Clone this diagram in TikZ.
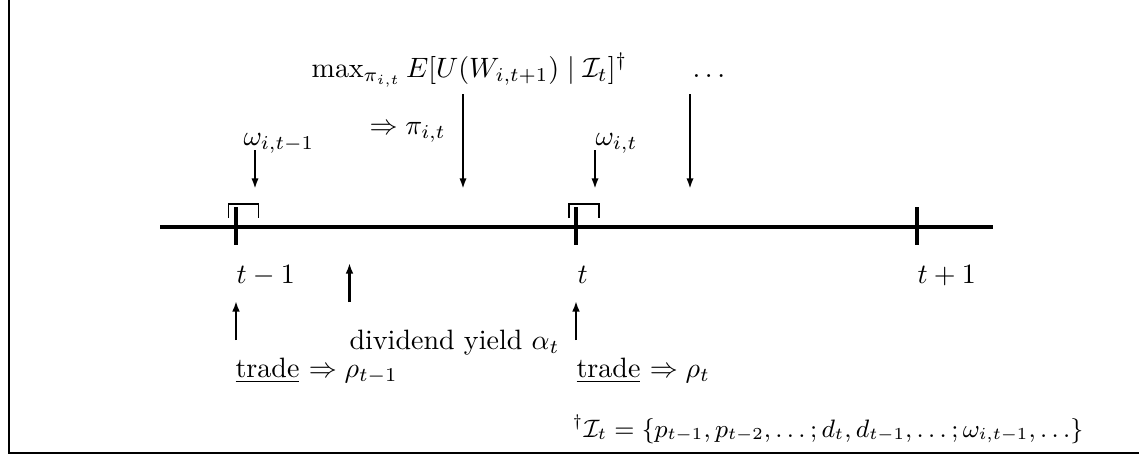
\documentclass[tikz,border=0pt]{standalone}
\usetikzlibrary{arrows.meta}
\tikzset{
  lbl/.style={anchor=base west, inner sep=0pt},
  frameline/.style={line width=0.8pt},
  axisline/.style={line width=1.1pt},
  tickline/.style={line width=1.1pt},
  bracketline/.style={line width=0.7pt},
  arr/.style={line width=0.75pt, -{Latex[length=3.8pt,width=2.6pt]}},
  uparr/.style={line width=0.9pt, -{Latex[length=3.8pt,width=2.8pt]}},
}
\begin{document}
\begin{tikzpicture}[x=0.357pt,y=-0.357pt]
\useasboundingbox (0,0) rectangle (1139,457);
% frame (left and bottom)
\coordinate (FT) at (9,0);
\coordinate (FC) at (9,453);
\coordinate (FR) at (1139,453);
\draw[frameline] (FT) -- (FC) -- (FR);
% timeline
\coordinate (AL) at (160,227);
\coordinate (AR) at (993,227);
\draw[axisline] (AL) -- (AR);
% ticks
\foreach \n/\x in {a/236,b/576,c/917}{
  \coordinate (T\n1) at (\x,207);
  \coordinate (T\n2) at (\x,245);
  \draw[tickline] (T\n1) -- (T\n2);
}
% brackets
\coordinate (B1a) at (228.5,218);
\coordinate (B1b) at (228.5,204);
\coordinate (B1c) at (258.5,204);
\coordinate (B1d) at (258.5,218);
\draw[bracketline] (B1a) -- (B1b) -- (B1c) -- (B1d);
\coordinate (B2a) at (569,218);
\coordinate (B2b) at (569,204);
\coordinate (B2c) at (599,204);
\coordinate (B2d) at (599,218);
\draw[bracketline] (B2a) -- (B2b) -- (B2c) -- (B2d);
% labels top
\node[lbl] (max) at (311,77) {$\max_{\pi_{i,t}} E[U(W_{i,t+1}) \mid \mathcal{I}_t]^\dagger$};
\node[lbl] (dots) at (692,77) {$\ldots$};
\node[lbl] (pi) at (369,134) {$\Rightarrow \pi_{i,t}$};
\node[lbl] (om1) at (243,145) {$\omega_{i,t-1}$};
\node[lbl] (om2) at (595,145) {$\omega_{i,t}$};
% down arrows
\coordinate (D1s) at (255,150); \coordinate (D1e) at (255,189);
\coordinate (D2s) at (463,94);  \coordinate (D2e) at (463,189);
\coordinate (D3s) at (595,150); \coordinate (D3e) at (595,189);
\coordinate (D4s) at (690,94);  \coordinate (D4e) at (690,189);
\draw[arr] (D1s) -- (D1e);
\draw[arr] (D2s) -- (D2e);
\draw[arr] (D3s) -- (D3e);
\draw[arr] (D4s) -- (D4e);
% time labels
\node[lbl] (tm1) at (236,283) {$t-1$};
\node[lbl] (t0) at (577,283) {$t$};
\node[lbl] (tp1) at (917,283) {$t+1$};
% up arrows
\coordinate (U1s) at (349.5,302); \coordinate (U1e) at (349.5,263);
\coordinate (U2s) at (236,340); \coordinate (U2e) at (236,301);
\coordinate (U3s) at (576,340); \coordinate (U3e) at (576,301);
\draw[uparr] (U1s) -- (U1e);
\draw[uparr] (U2s) -- (U2e);
\draw[uparr] (U3s) -- (U3e);
% bottom labels
\node[lbl] (div) at (349,349) {dividend yield $\alpha_t$};
\node[lbl] (tr1) at (235,377) {\underline{trade} $\Rightarrow \rho_{t-1}$};
\node[lbl] (tr2) at (576,377) {\underline{trade} $\Rightarrow \rho_t$};
\node[lbl] (info) at (572,437) {\small $^\dagger\mathcal{I}_t = \{p_{t-1}, p_{t-2}, \ldots; d_t, d_{t-1}, \ldots; \omega_{i,t-1}, \ldots\}$};
\end{tikzpicture}
\end{document}
